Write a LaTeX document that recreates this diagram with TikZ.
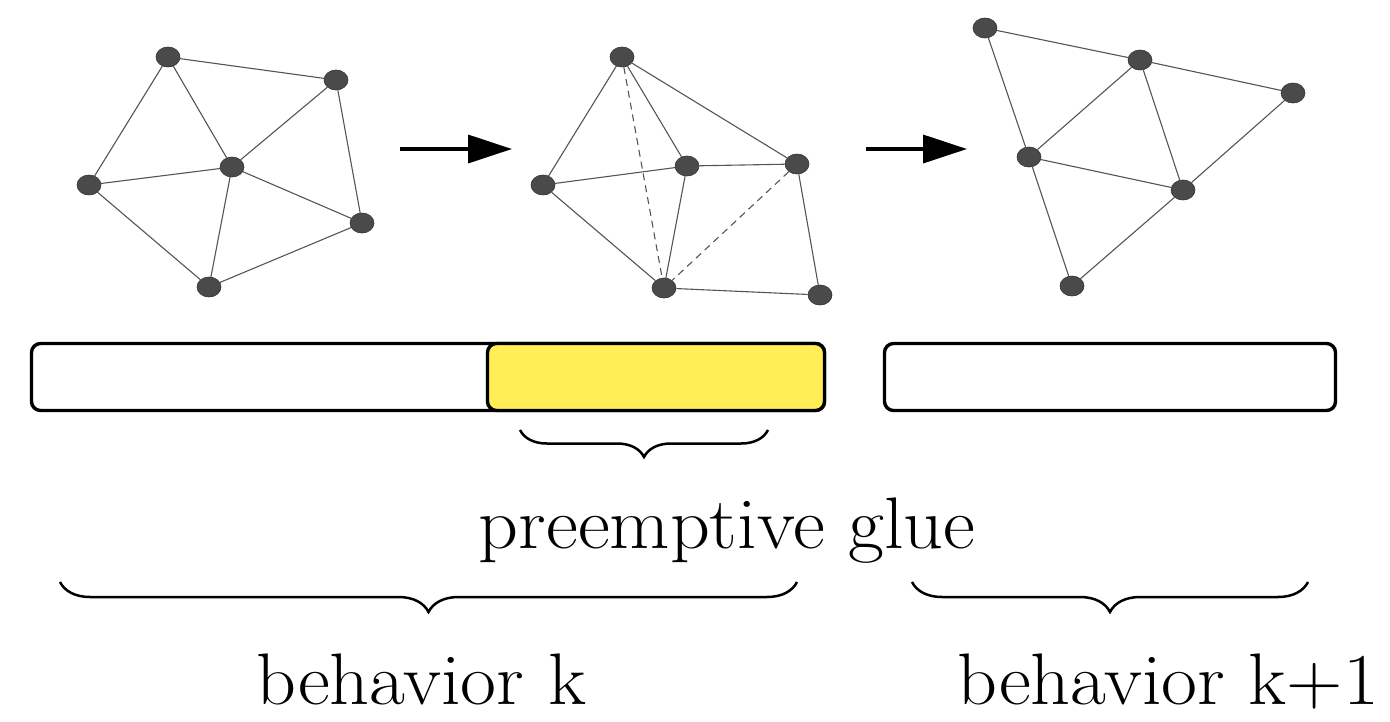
\documentclass[tikz,border=0pt]{standalone}
\usepackage{fontspec}
\usetikzlibrary{shapes.geometric,arrows.meta,decorations.pathreplacing}
\definecolor{nodegray}{HTML}{4A4A4A}
\definecolor{edgegray}{HTML}{555555}
\definecolor{glueyellow}{HTML}{FFEE55}
\newcommand{\widetext}[1]{\scalebox{1.07}[1]{#1}}
\begin{document}
\begin{tikzpicture}[x=1pt,y=-1pt,
 vtx/.style={ellipse,fill=nodegray,draw=black!80,line width=0.6pt,minimum width=24pt,minimum height=20pt,inner sep=0pt},
 gedge/.style={draw=edgegray,line width=1.1pt},
 dashedge/.style={gedge,dash pattern=on 7pt off 5pt},
 bigarrow/.style={line width=3.5pt,-{Triangle[length=44pt,width=28pt]}},
 barbox/.style={draw=black,line width=3.4pt,rounded corners=9pt,inner sep=0pt,minimum height=67pt},
 mybrace/.style={decorate,decoration={brace,mirror,amplitude=#1},line width=2.5pt},
 lbl/.style={font=\fontsize{73}{80}\selectfont,anchor=base,inner sep=0pt}]
\useasboundingbox (0,0) rectangle (1390,721);
\fill[white] (0,0) rectangle (1390,721);

% graph 1
\node[vtx] (a) at (168,57) {};
\node[vtx] (b) at (336,80) {};
\node[vtx] (c) at (232,167) {};
\node[vtx] (d) at (89,185) {};
\node[vtx] (e) at (362,223) {};
\node[vtx] (f) at (209,287) {};
\draw[gedge] (a) -- (b) (a) -- (d) (a) -- (c) (b) -- (c) (b) -- (e)
  (d) -- (c) (d) -- (f) (c) -- (f) (c) -- (e) (e) -- (f);

% graph 2
\node[vtx] (p) at (622,57) {};
\node[vtx] (q) at (543,185) {};
\node[vtx] (r) at (687,166) {};
\node[vtx] (s) at (797,164) {};
\node[vtx] (t) at (664,288) {};
\node[vtx] (u) at (820,295) {};
\draw[gedge] (p) -- (q) (p) -- (r) (p) -- (s) (q) -- (r) (q) -- (t)
  (r) -- (s) (r) -- (t) (s) -- (u) (t) -- (u);
\draw[dashedge] (p) -- (t) (s) -- (t);

% graph 3
\node[vtx] (v1) at (985,28) {};
\node[vtx] (v2) at (1140,60) {};
\node[vtx] (v3) at (1293,93) {};
\node[vtx] (v4) at (1029,157) {};
\node[vtx] (v5) at (1183,190) {};
\node[vtx] (v6) at (1072,286) {};
\draw[gedge] (v1) -- (v2) (v2) -- (v3) (v1) -- (v4) (v2) -- (v4) (v2) -- (v5)
  (v4) -- (v5) (v3) -- (v5) (v4) -- (v6) (v5) -- (v6);

% arrows
\coordinate (a1s) at (400,149);
\coordinate (a1e) at (512,149);
\coordinate (a2s) at (866,149);
\coordinate (a2e) at (967,149);
\draw[bigarrow] (a1s) -- (a1e);
\draw[bigarrow] (a2s) -- (a2e);

% bars
\node[barbox,fill=white,minimum width=793pt] (bar1) at (428,377) {};
\node[barbox,fill=glueyellow,minimum width=337pt] (glue) at (656,377) {};
\node[barbox,fill=white,minimum width=451pt] (bar2) at (1110,377) {};

% braces
\coordinate (g1) at (520,430);
\coordinate (g2) at (768,430);
\draw[mybrace=27pt] (g1) -- (g2);
\coordinate (k1) at (60,582);
\coordinate (k2) at (797,582);
\draw[mybrace=30pt] (k1) -- (k2);
\coordinate (m1) at (912,582);
\coordinate (m2) at (1308,582);
\draw[mybrace=30pt] (m1) -- (m2);

% labels
\node[lbl] (tglue) at (727,548) {\widetext{preemptive glue}};
\node[lbl] (tk) at (421,704) {\widetext{behavior k}};
\node[lbl] (tk1) at (1168,704) {\widetext{behavior k+1}};
\end{tikzpicture}
\end{document}
